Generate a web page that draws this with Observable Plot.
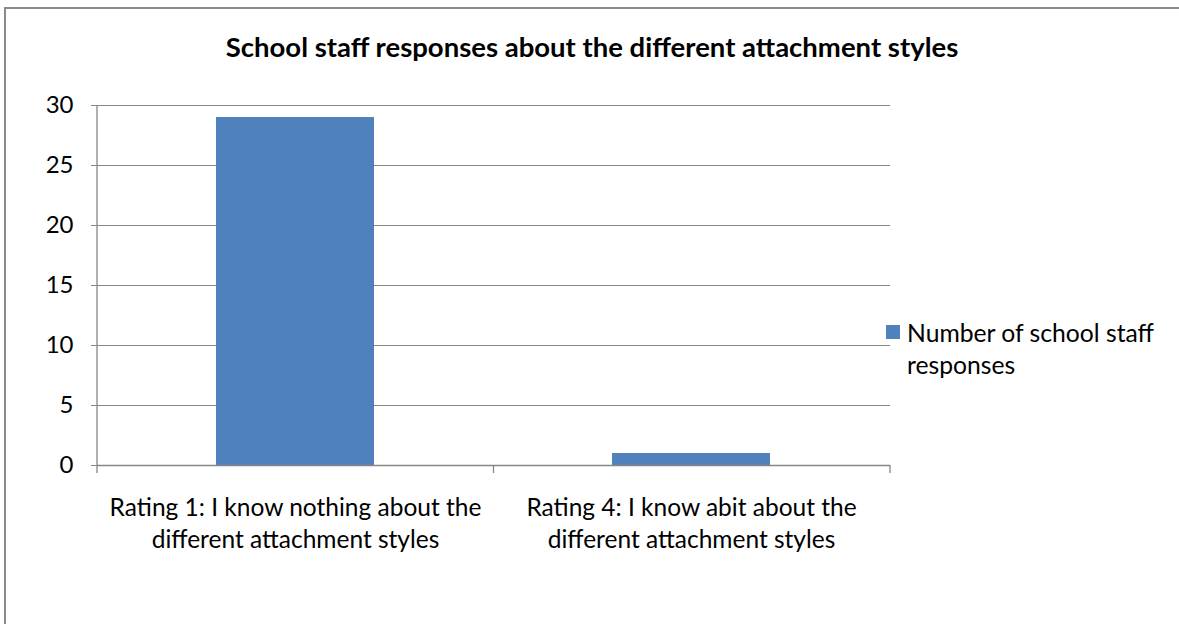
<!DOCTYPE html>
<html><head><meta charset="utf-8">
<script src="https://cdn.jsdelivr.net/npm/d3@7"></script>
<script src="https://cdn.jsdelivr.net/npm/@observablehq/plot@0.6"></script>
<style>
body{margin:0;background:#fff;}
#wrap{position:relative;width:1179px;height:624px;overflow:hidden;font-family:Lato,"Open Sans",sans-serif;color:#000;}
#border{position:absolute;left:4px;top:7px;width:1300px;height:800px;border:2px solid #8a8a8a;box-sizing:border-box;}
#title{position:absolute;left:5px;width:1174px;top:33px;text-align:center;font-weight:bold;font-size:27.5px;line-height:28px;}
#legend{position:absolute;left:886px;top:320px;font-size:24.7px;line-height:32px;}
#legend .sw{position:absolute;left:0;top:5px;width:14px;height:14px;background:#4F81BD;}
#legend .tx{position:absolute;left:21px;top:-3px;width:290px;}
#chart{position:absolute;left:0;top:0;}
</style></head>
<body>
<div id="wrap">
  <div id="border"></div>
  <div id="chart"></div>
  <div id="title"></div>
  <div id="legend"><div class="sw"></div><div class="tx"></div></div>
</div>
<script>
const chartTitle = "School staff responses about the different attachment styles";
const seriesName = "Number of school staff responses";
const seriesNameLines = ["Number of school staff", "responses"];
const categories = [
  "Rating 1: I know nothing about the\ndifferent attachment styles",
  "Rating 4: I know abit about the\ndifferent attachment styles"
];
const values = [29, 1];
const yTicks = [0, 5, 10, 15, 20, 25, 30];

const data = categories.map((c, i) => ({category: c, value: values[i]}));
const gray = "#868686";
const blue = "#4F81BD";

document.getElementById("title").textContent = chartTitle;
document.querySelector("#legend .tx").innerHTML = seriesNameLines.join("<br>");

const plot = Plot.plot({
  width: 1179,
  height: 624,
  marginLeft: 97,
  marginRight: 289,
  marginTop: 105,
  marginBottom: 159,
  style: {fontFamily: "Lato, 'Open Sans', sans-serif", fontSize: "24px", background: "transparent", color: "#000"},
  x: {domain: categories, paddingInner: 0.6, paddingOuter: 0.3, label: null},
  y: {domain: [0, 30], ticks: yTicks, label: null},
  marks: [
    Plot.gridY(yTicks, {stroke: gray, strokeOpacity: 1, strokeWidth: 1}),
    Plot.barY(data, {x: "category", y: "value", fill: blue, inset: 0}),
    Plot.ruleY([0], {stroke: gray, strokeWidth: 1.3}),
    Plot.axisY(yTicks, {tickSize: 6, tickPadding: 18, stroke: gray, fill: "#000", fontSize: 24, label: null}),
    Plot.axisX({tickSize: 0, tickPadding: 28, fontSize: 24.5, lineHeight: 1.31, fill: "#000", label: null})
  ]
});
document.getElementById("chart").appendChild(plot);

// y-axis line and category boundary ticks, positioned from the Plot scales
const xs = plot.scale("x"), ys = plot.scale("y");
const svg = d3.select(plot);
const x0 = xs.range[0], x1 = xs.range[1];
const y0 = ys.apply(0), yTop = ys.apply(30);
svg.append("line").attr("x1", x0).attr("x2", x0).attr("y1", yTop).attr("y2", y0)
  .attr("stroke", gray).attr("stroke-width", 1.3);
const n = categories.length;
for (let i = 0; i <= n; i++) {
  const b = x0 + (x1 - x0) * i / n;
  svg.append("line").attr("x1", b).attr("x2", b).attr("y1", y0).attr("y2", y0 + 8)
    .attr("stroke", gray).attr("stroke-width", 1.3);
}
</script>
</body></html>
